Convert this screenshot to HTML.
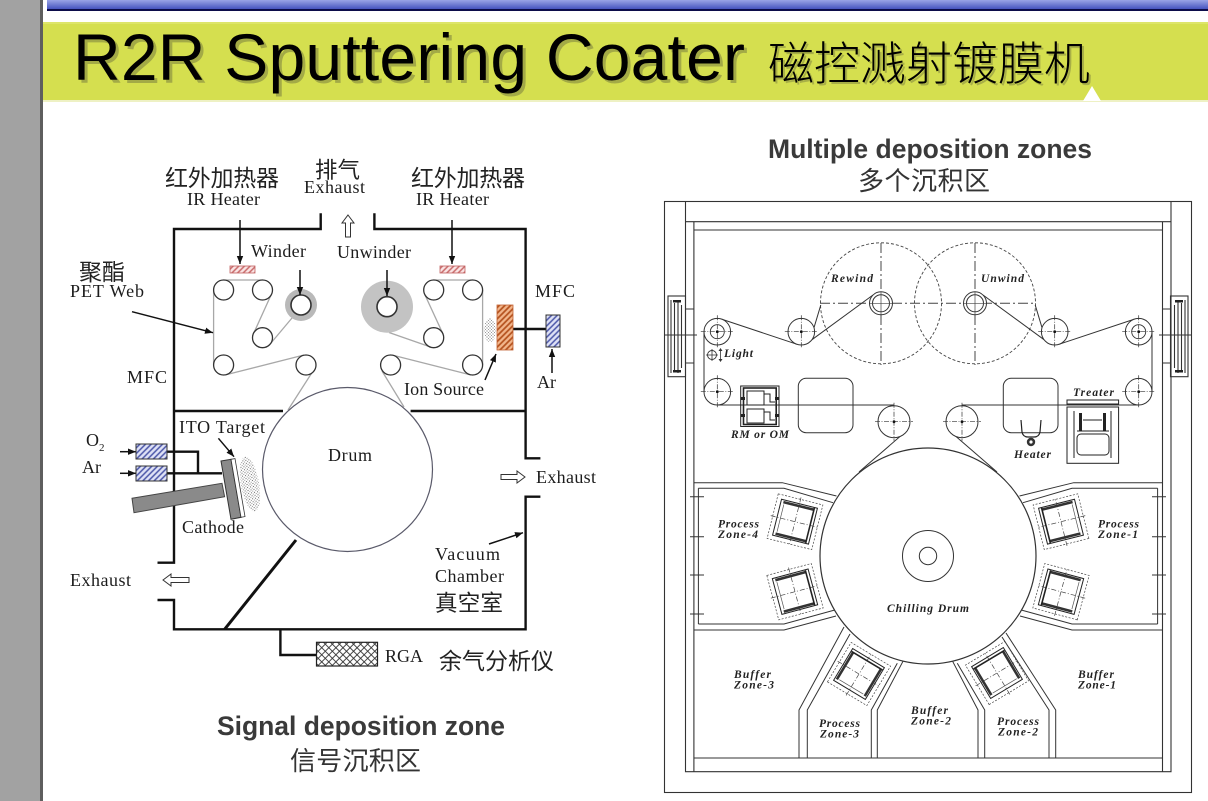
<!DOCTYPE html>
<html><head><meta charset="utf-8">
<style>
html,body{margin:0;padding:0;background:#fff;}
svg{display:block}
.s{font-family:"Liberation Serif","Noto Serif CJK SC",serif;font-size:18px;fill:#1c1c1c}
.k{font-family:"Liberation Sans","Noto Sans CJK SC",sans-serif;fill:#222}
.b{font-family:"Liberation Sans","Noto Sans CJK SC",sans-serif;font-weight:bold;fill:#3a3a3a}
.i{font-family:"Liberation Serif",serif;font-style:italic;font-weight:bold;font-size:11.5px;fill:#222}
</style></head><body>
<svg width="1208" height="801" viewBox="0 0 1208 801" xmlns="http://www.w3.org/2000/svg">
<defs>
  <linearGradient id="bl" x1="0" y1="0" x2="0" y2="1"><stop offset="0" stop-color="#9aa4e6"/><stop offset="1" stop-color="#4654bf"/></linearGradient>
  <pattern id="bh" width="4" height="4" patternUnits="userSpaceOnUse" patternTransform="rotate(45)"><rect width="4" height="4" fill="#dfe2f6"/><line x1="1" y1="0" x2="1" y2="4" stroke="#4a55a8" stroke-width="1.5"/></pattern>
  <pattern id="ph" width="4" height="4" patternUnits="userSpaceOnUse" patternTransform="rotate(45)"><rect width="4" height="4" fill="#fae4e4"/><line x1="1" y1="0" x2="1" y2="4" stroke="#c86a6a" stroke-width="1.5"/></pattern>
  <pattern id="oh" width="4" height="4" patternUnits="userSpaceOnUse" patternTransform="rotate(45)"><rect width="4" height="4" fill="#f2b68c"/><line x1="1" y1="0" x2="1" y2="4" stroke="#b4501c" stroke-width="1.7"/></pattern>
  <pattern id="xh" width="5" height="5" patternUnits="userSpaceOnUse" patternTransform="rotate(45)"><rect width="5" height="5" fill="#fff"/><line x1="0" y1="0.5" x2="5" y2="0.5" stroke="#333" stroke-width="0.9"/><line x1="0.5" y1="0" x2="0.5" y2="5" stroke="#333" stroke-width="0.9"/></pattern>
  <pattern id="dt" width="3" height="3" patternUnits="userSpaceOnUse"><circle cx="1" cy="1" r="0.55" fill="#444"/><circle cx="2.5" cy="2.5" r="0.45" fill="#666"/></pattern>
  <marker id="ah" viewBox="0 0 10 10" refX="10" refY="5" markerWidth="8" markerHeight="8" markerUnits="userSpaceOnUse" orient="auto"><path d="M0,1 L10,5 L0,9 z" fill="#111"/></marker>
  <g id="rl"><circle r="13.3" fill="#fff" stroke="#333" stroke-width="1"/><path d="M-16.5,0H16.5M0,-16.5V16.5" stroke="#333" stroke-width="0.7" stroke-dasharray="5,1.5,1,1.5"/><circle r="1.4" fill="#111"/></g>
  <g id="rlb"><circle r="16" fill="#fff" stroke="#333" stroke-width="1"/><path d="M-19,0H19M0,-19V19" stroke="#333" stroke-width="0.7" stroke-dasharray="5,1.5,1,1.5"/><circle r="1.4" fill="#111"/></g>
  <g id="mag">
    <rect x="-23" y="-23" width="46" height="46" fill="none" stroke="#444" stroke-width="0.7" stroke-dasharray="2,1.5"/>
    <rect x="-18.5" y="-18.5" width="37" height="37" fill="#fff" stroke="#222" stroke-width="1"/>
    <path d="M-25,0H25M0,-25V25" stroke="#444" stroke-width="0.7" stroke-dasharray="5,2,1,2"/>
    <rect x="-16" y="-17.5" width="32" height="2.6" fill="#333"/>
    <rect x="-16" y="15" width="32" height="2.6" fill="#333"/>
    <line x1="15.5" y1="-18" x2="15.5" y2="18" stroke="#222" stroke-width="1.6"/>
    <line x1="-15" y1="-14" x2="-15" y2="14" stroke="#555" stroke-width="0.7"/>
  </g>
</defs>

<!-- page chrome -->
<rect x="0" y="0" width="41" height="801" fill="#a2a2a2"/>
<rect x="40" y="0" width="3" height="801" fill="#5e5e5e"/>
<rect x="47" y="0" width="1161" height="9" fill="url(#bl)"/>
<rect x="47" y="9" width="1161" height="2" fill="#0c0c4a"/>
<rect x="43" y="22" width="1165" height="78" fill="#d5df4f"/>
<rect x="43" y="22" width="1165" height="2" fill="#dde56a"/>
<rect x="43" y="100" width="1165" height="2" fill="#eef1c4"/>
<polygon points="1083,101 1092,86 1101,101" fill="#fff"/>
<text x="76" y="83" font-family="Liberation Sans, sans-serif" font-size="66" fill="#7c8040" opacity="0.55" textLength="672">R2R Sputtering Coater</text>
<text x="73" y="80" font-family="Liberation Sans, sans-serif" font-size="66" fill="#000" textLength="672">R2R Sputtering Coater</text>
<text x="770" y="82" class="k" font-size="46" opacity="0.5" textLength="322" style="fill:#7c8040;font-weight:300">磁控溅射镀膜机</text>
<text x="768" y="80" class="k" font-size="46" textLength="322" style="fill:#000;font-weight:300">磁控溅射镀膜机</text>

<!-- ============ LEFT DIAGRAM ============ -->
<g fill="none" stroke="#111" stroke-width="2.4">
  <path d="M320.7,213.3 V229 H174 V562.7 H157.5"/>
  <path d="M157.5,600 H174 V629.3 H525.6 V496.7 H540.4"/>
  <path d="M540.4,458.3 H525.6 V229 H374.4 V213.3"/>
  <path d="M174,411 H283 M410.6,411 H525.6"/>
  <path d="M280.4,629.3 V655 H316.5"/>
  <path d="M167,451.7 H198 V473.3 M167,473.3 H222"/>
  <path d="M513,329 H546"/>
</g>
<line x1="296" y1="540" x2="224.6" y2="629.3" stroke="#111" stroke-width="3"/>

<!-- web lines -->
<g stroke="#a8a8a8" stroke-width="1.3" fill="none">
  <path d="M223.6,280 H262.5"/>
  <path d="M213.6,290 V365"/>
  <path d="M271.5,294 L253.5,333.7"/>
  <path d="M271,343 L292,318"/>
  <path d="M225,375 L304,355"/>
  <path d="M313,371 L288,410"/>
  <path d="M389,332.5 L432,347.5"/>
  <path d="M425,295 L442.4,332.7"/>
  <path d="M433.7,280 H472.6"/>
  <path d="M482.6,290 V365"/>
  <path d="M471,375 L392,355"/>
  <path d="M382,371 L404,407"/>
</g>

<!-- drum -->
<ellipse cx="347.5" cy="469.5" rx="85" ry="82" fill="#fff" stroke="#5a5a6a" stroke-width="1.2"/>

<!-- rollers -->
<g fill="#fff" stroke="#333" stroke-width="1.3">
  <circle cx="223.6" cy="290" r="10"/><circle cx="262.5" cy="290" r="10"/>
  <circle cx="262.5" cy="337.7" r="10"/><circle cx="223.6" cy="365" r="10"/>
  <circle cx="306" cy="365" r="10"/>
  <circle cx="433.7" cy="290" r="10"/><circle cx="472.6" cy="290" r="10"/>
  <circle cx="433.7" cy="337.7" r="10"/><circle cx="390.6" cy="365" r="10"/>
  <circle cx="472.6" cy="365" r="10"/>
</g>
<circle cx="301" cy="305" r="16" fill="#b9b9b9"/>
<circle cx="301" cy="305" r="10" fill="#fff" stroke="#333" stroke-width="1.6"/>
<circle cx="387" cy="306.7" r="26" fill="#c3c3c3"/>
<circle cx="387" cy="306.7" r="10" fill="#fff" stroke="#333" stroke-width="1.6"/>

<!-- heaters -->
<rect x="230" y="266" width="25" height="7" fill="url(#ph)" stroke="#c06060" stroke-width="0.8"/>
<rect x="440" y="266" width="25" height="7" fill="url(#ph)" stroke="#c06060" stroke-width="0.8"/>

<!-- arrows -->
<g stroke="#111" stroke-width="1.5" marker-end="url(#ah)">
  <line x1="240" y1="220" x2="240" y2="264"/>
  <line x1="452" y1="220" x2="452" y2="264"/>
  <line x1="300" y1="270" x2="300" y2="295"/>
  <line x1="387" y1="270" x2="387" y2="296"/>
  <line x1="132" y1="311.7" x2="213" y2="332.7"/>
  <line x1="120" y1="451.7" x2="136" y2="451.7"/>
  <line x1="120" y1="473.3" x2="136" y2="473.3"/>
  <line x1="218.4" y1="438.3" x2="234" y2="456.7"/>
  <line x1="489" y1="544" x2="523" y2="532.7"/>
  <line x1="552" y1="373" x2="552" y2="349"/>
  <line x1="485" y1="380" x2="496" y2="354"/>
</g>
<!-- hollow arrows -->
<g fill="#fff" stroke="#333" stroke-width="1">
  <polygon points="348,215 354,223 350.5,223 350.5,237 345.5,237 345.5,223 342,223"/>
  <polygon points="525,477 517,471 517,474.5 501,474.5 501,479.5 517,479.5 517,483"/>
  <polygon points="163,580 171,574 171,577.5 189,577.5 189,582.5 171,582.5 171,586"/>
</g>

<!-- gas boxes -->
<rect x="136" y="444" width="31" height="15" fill="url(#bh)" stroke="#333" stroke-width="1"/>
<rect x="136" y="466" width="31" height="15" fill="url(#bh)" stroke="#333" stroke-width="1"/>

<!-- cathode -->
<polygon points="132,498.3 222,483.3 224.6,496.7 134,512.7" fill="#8a8a8a" stroke="#444" stroke-width="1"/>
<polygon points="221,461 231,459.3 241,517.3 231,519.3" fill="#8a8a8a" stroke="#333" stroke-width="1"/>
<polygon points="231,459.3 235,458.6 245,516.6 241,517.3" fill="#fff" stroke="#333" stroke-width="0.8"/>
<ellipse cx="250" cy="484" rx="9" ry="28" transform="rotate(-10 250 484)" fill="url(#dt)"/>

<!-- ion source / MFC -->
<ellipse cx="490" cy="330" rx="6" ry="12" fill="url(#dt)"/>
<rect x="497" y="305" width="16" height="45" fill="url(#oh)" stroke="#c06030" stroke-width="0.8"/>
<rect x="546" y="315" width="14" height="32" fill="url(#bh)" stroke="#333" stroke-width="1"/>

<!-- RGA -->
<rect x="316.5" y="642.3" width="61" height="23.7" fill="url(#xh)" stroke="#222" stroke-width="1.2"/>

<!-- left labels -->
<text x="165" y="186" class="k" font-size="23" textLength="114">红外加热器</text>
<text x="187" y="205" class="s" textLength="73">IR Heater</text>
<text x="315" y="178" class="k" font-size="22.5" textLength="45">排气</text>
<text x="304" y="193" class="s" textLength="61">Exhaust</text>
<text x="411" y="186" class="k" font-size="23" textLength="114">红外加热器</text>
<text x="416" y="205" class="s" textLength="73">IR Heater</text>
<text x="251" y="257" class="s" textLength="55">Winder</text>
<text x="337" y="258" class="s" textLength="74">Unwinder</text>
<text x="79" y="280" class="k" font-size="23" textLength="46">聚酯</text>
<text x="70" y="297" class="s" textLength="74">PET Web</text>
<text x="127" y="383" class="s" textLength="40">MFC</text>
<text x="535" y="297" class="s" textLength="40">MFC</text>
<text x="537" y="388" class="s">Ar</text>
<text x="404" y="395" class="s" textLength="80">Ion Source</text>
<text x="86" y="446" class="s">O</text>
<text x="99" y="451" class="s" style="font-size:11px">2</text>
<text x="82" y="473" class="s">Ar</text>
<text x="179" y="433" class="s" textLength="86">ITO Target</text>
<text x="328" y="461" class="s" textLength="44">Drum</text>
<text x="182" y="533" class="s" textLength="62">Cathode</text>
<text x="536" y="483" class="s" textLength="60">Exhaust</text>
<text x="70" y="586" class="s" textLength="61">Exhaust</text>
<text x="435" y="560" class="s" textLength="65">Vacuum</text>
<text x="435" y="582" class="s" textLength="69">Chamber</text>
<text x="435" y="611" class="k" font-size="22.5" textLength="68">真空室</text>
<text x="385" y="662" class="s" textLength="38">RGA</text>
<text x="439" y="669" class="k" font-size="23" textLength="115">余气分析仪</text>

<text x="217" y="735" class="b" font-size="26.5" textLength="288">Signal deposition zone</text>
<text x="290" y="770" class="k" font-size="26" textLength="131" style="fill:#333">信号沉积区</text>

<!-- ============ RIGHT DIAGRAM ============ -->
<text x="768" y="158" class="b" font-size="26.5" textLength="324">Multiple deposition zones</text>
<text x="858" y="190" class="k" font-size="26" textLength="132" style="fill:#333">多个沉积区</text>

<g fill="none" stroke="#333" stroke-width="1.1">
  <rect x="664.5" y="201.5" width="527" height="591"/>
  <path d="M685.5,201.5 V771.7 H1171 V201.5 M685.5,221.7 H1171"/>
  <path d="M693.9,221.7 V771.7 M1162.5,221.7 V771.7 M693.9,230 H1162.5 M693.9,758 H1162.5"/>
  <!-- side brackets -->
  <rect x="668" y="296" width="17.5" height="80.7"/>
  <path d="M671,300 V373 M674.5,303 V370 M678,300 V373 M681.5,305 V368"/>
  <path d="M665,335 H697 M685.5,309 H694 M685.5,363 H694"/>
  <rect x="1170.5" y="296" width="17.5" height="80.7"/>
  <path d="M1185,300 V373 M1181.5,303 V370 M1178,300 V373 M1174.5,305 V368"/>
  <path d="M1159,335 H1191 M1162.5,309 H1171 M1162.5,363 H1171"/>
</g>
<g fill="#222">
  <rect x="673" y="300" width="8" height="2.5"/><rect x="673" y="370" width="8" height="2.5"/>
  <rect x="1175" y="300" width="8" height="2.5"/><rect x="1175" y="370" width="8" height="2.5"/>
</g>

<!-- rewind / unwind -->
<g fill="none" stroke="#444" stroke-width="0.9">
  <circle cx="881" cy="303.3" r="60.5" stroke-dasharray="3,2"/>
  <circle cx="975" cy="303.3" r="60.5" stroke-dasharray="3,2"/>
  <path d="M881,243 V365 M975,243 V365 M820,303.3 H1036" stroke-dasharray="10,3,2,3" stroke-width="1"/>
</g>

<!-- web lines right -->
<g stroke="#333" stroke-width="1" fill="none">
  <path d="M704,331.7 V391.7"/>
  <path d="M721.5,319.1 L797.1,344.3"/>
  <path d="M807,343.3 L873,295"/>
  <path d="M813.8,328.3 L820.8,305"/>
  <path d="M1049,343.3 L983,295"/>
  <path d="M1042.2,328.3 L1035.2,305"/>
  <path d="M1134.5,319.1 L1058.9,344.3"/>
  <path d="M1152,331.7 V391.7"/>
  <path d="M717.3,405 H894"/>
  <path d="M962,405 H1138.7"/>
  <path d="M900,436.5 L859,472"/>
  <path d="M956,436.5 L997,472"/>
</g>
<g fill="#fff" stroke="#333" stroke-width="1">
  <circle cx="881" cy="303.3" r="11.5"/><circle cx="881" cy="303.3" r="8.5"/>
  <circle cx="975" cy="303.3" r="11.5"/><circle cx="975" cy="303.3" r="8.5"/>
</g>
<path d="M881,292 V315 M870,303.3 H892 M975,292 V315 M964,303.3 H986" stroke="#444" stroke-width="0.7"/>

<use href="#rl" x="717.3" y="331.7"/>
<circle cx="717.3" cy="331.7" r="7" fill="none" stroke="#333" stroke-width="0.9"/>
<use href="#rl" x="801.3" y="331.7"/>
<use href="#rl" x="717.3" y="391.7"/>
<use href="#rl" x="1054.7" y="331.7"/>
<use href="#rl" x="1138.7" y="331.7"/>
<circle cx="1138.7" cy="331.7" r="7" fill="none" stroke="#333" stroke-width="0.9"/>
<use href="#rl" x="1138.7" y="391.7"/>
<use href="#rlb" x="894" y="421.7"/>
<use href="#rlb" x="962" y="421.7"/>

<!-- light -->
<circle cx="712" cy="355" r="4.5" fill="none" stroke="#333" stroke-width="0.9"/>
<path d="M706,355 H718 M712,349 V361 M720.5,350 V360" stroke="#333" stroke-width="0.8"/>
<path d="M718.5,351 L720.5,348 L722.5,351 Z M718.5,359 L720.5,362 L722.5,359 Z" fill="#333"/>
<text x="724" y="357" class="i" textLength="29">Light</text>

<!-- RM box -->
<g fill="none" stroke="#222" stroke-width="1">
  <rect x="740.7" y="386" width="38.3" height="40.5"/>
  <rect x="743.5" y="388" width="32.7" height="36.5" stroke-width="1.6"/>
  <rect x="747" y="391" width="17" height="14"/>
  <rect x="747" y="409" width="17" height="14"/>
  <path d="M764,394 H770 V402 H775 M764,412 H770 V420 H775"/>
</g>
<g fill="#222"><rect x="741" y="397" width="4" height="3"/><rect x="775" y="397" width="4" height="3"/><rect x="741" y="414" width="4" height="3"/><rect x="775" y="414" width="4" height="3"/></g>
<text x="731" y="438" class="i" textLength="58">RM  or  OM</text>

<!-- rounded boxes -->
<rect x="798.3" y="378.3" width="54.7" height="54.4" rx="8" fill="none" stroke="#333" stroke-width="1"/>
<rect x="1003.3" y="378.3" width="54.7" height="54.4" rx="8" fill="none" stroke="#333" stroke-width="1"/>

<!-- heater -->
<path d="M1021,420 L1022,432 Q1023,437 1028,437 L1034,437 Q1039,437 1040,432 L1041,420" fill="none" stroke="#222" stroke-width="1.2"/>
<circle cx="1031" cy="442" r="4.2" fill="#333"/><circle cx="1031" cy="442" r="1.6" fill="#fff"/>
<text x="1014" y="458" class="i" textLength="37">Heater</text>

<!-- treater -->
<text x="1073" y="396" class="i" textLength="41">Treater</text>
<rect x="1067" y="400" width="51.6" height="4" fill="none" stroke="#222" stroke-width="1"/>
<g fill="none" stroke="#222" stroke-width="1">
  <rect x="1067" y="407" width="51.6" height="56.3"/>
  <path d="M1074,411 V458 M1111,411 V458"/>
  <path d="M1083,420 H1102"/>
  <rect x="1077" y="434" width="32" height="21" rx="4"/>
  <path d="M1077,431 H1109"/>
</g>
<rect x="1079" y="413" width="3" height="18" fill="#222"/>
<rect x="1103" y="413" width="3" height="18" fill="#222"/>

<!-- zone walls -->
<g fill="none" stroke="#333" stroke-width="1">
  <path d="M694,482.7 H782.3 L836.5,496"/>
  <path d="M698.4,488.3 H784 L833,502.7"/>
  <path d="M698.4,624 H784 L834.8,610"/>
  <path d="M694,630 H784 L836,616"/>
  <path d="M698.4,488.3 V624"/>
  <path d="M690,496.7 H704 M690,536.7 H704 M690,575 H704 M690,614 H704"/>
  <path d="M1162,482.7 H1073.7 L1019.5,496"/>
  <path d="M1157.6,488.3 H1072 L1023,502.7"/>
  <path d="M1157.6,624 H1072 L1021.2,610"/>
  <path d="M1162,630 H1072 L1020,616"/>
  <path d="M1157.6,488.3 V624"/>
  <path d="M1152,496.7 H1166 M1152,536.7 H1166 M1152,575 H1166 M1152,614 H1166"/>
  <path d="M799,758 V710 L844,627"/>
  <path d="M807.3,758 V710 L850,634"/>
  <path d="M871.3,758 V710 L897.3,663.3"/>
  <path d="M877.3,758 V710 L903.3,660.7"/>
  <path d="M978,758 V710 L952.3,660.7"/>
  <path d="M984.7,758 V710 L957.3,663.3"/>
  <path d="M1049,758 V710 L1002,637"/>
  <path d="M1055.7,758 V710 L1006,633"/>
</g>

<!-- chilling drum -->
<circle cx="928" cy="556" r="108" fill="#fff" stroke="#333" stroke-width="1.2"/>
<circle cx="928" cy="556" r="25.5" fill="none" stroke="#333" stroke-width="1"/>
<circle cx="928" cy="556" r="8.7" fill="none" stroke="#333" stroke-width="1"/>
<text x="887" y="612" class="i" textLength="82">Chilling  Drum</text>

<!-- magnetrons -->
<use href="#mag" transform="translate(795,521.7) rotate(14)"/>
<use href="#mag" transform="translate(795,591.7) rotate(-15)"/>
<use href="#mag" transform="translate(1061,521.7) rotate(166)"/>
<use href="#mag" transform="translate(1061,591.7) rotate(-165)"/>
<use href="#mag" transform="translate(859,674) rotate(-59)"/>
<use href="#mag" transform="translate(997,673) rotate(-121)"/>

<!-- zone labels -->
<text x="831" y="282" class="i" textLength="42">Rewind</text>
<text x="981" y="282" class="i" textLength="43">Unwind</text>
<text x="718" y="527.5" class="i" textLength="41">Process</text>
<text x="718" y="538" class="i" textLength="40">Zone-4</text>
<text x="1098" y="527.5" class="i" textLength="41">Process</text>
<text x="1098" y="538" class="i" textLength="40">Zone-1</text>
<text x="734" y="678" class="i" textLength="37">Buffer</text>
<text x="734" y="688.5" class="i" textLength="40">Zone-3</text>
<text x="1078" y="678" class="i" textLength="36">Buffer</text>
<text x="1078" y="688.5" class="i" textLength="38">Zone-1</text>
<text x="911" y="714" class="i" textLength="37">Buffer</text>
<text x="911" y="724.5" class="i" textLength="40">Zone-2</text>
<text x="819" y="727" class="i" textLength="41">Process</text>
<text x="820" y="737.5" class="i" textLength="39">Zone-3</text>
<text x="997" y="725" class="i" textLength="42">Process</text>
<text x="998" y="735.5" class="i" textLength="40">Zone-2</text>
</svg>
</body></html>
